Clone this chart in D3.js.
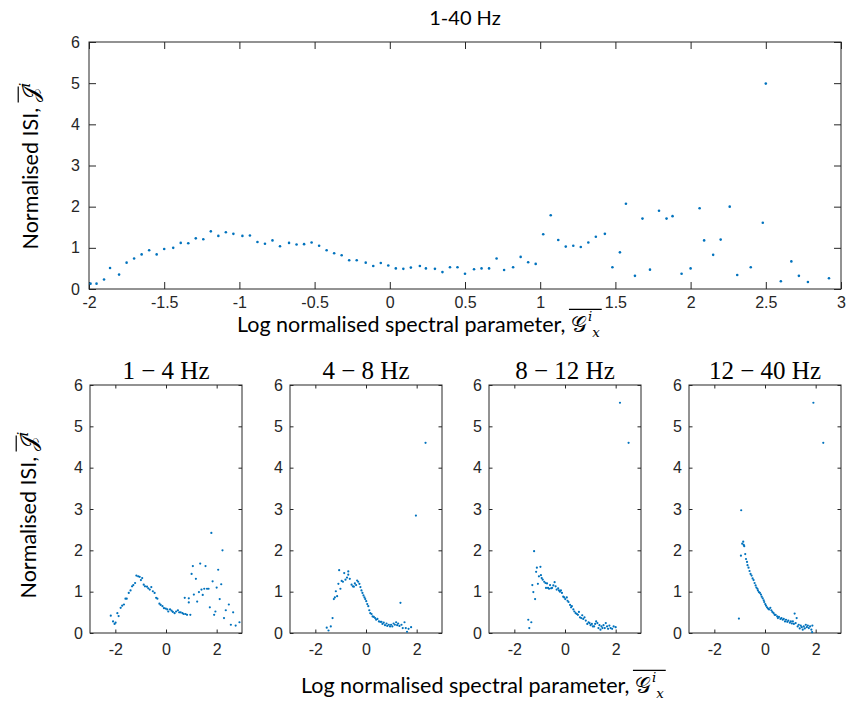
<!DOCTYPE html>
<html><head><meta charset="utf-8">
<script src="https://cdn.jsdelivr.net/npm/d3@7/dist/d3.min.js"></script>
<style>body{margin:0;background:#fff}svg{display:block}</style>
</head><body>
<script>
// ---------- data ----------
const allBandX = [-1.99,-1.95,-1.90,-1.86,-1.80,-1.75,-1.70,-1.65,-1.60,-1.55,-1.50,-1.44,-1.39,-1.34,-1.29,-1.24,-1.19,-1.14,-1.09,-1.04,-0.98,-0.93,-0.88,-0.83,-0.78,-0.73,-0.67,-0.62,-0.57,-0.52,-0.47,-0.42,-0.37,-0.32,-0.27,-0.22,-0.16,-0.11,-0.06,-0.01,0.04,0.09,0.14,0.20,0.24,0.30,0.35,0.40,0.45,0.50,0.56,0.61,0.66,0.71,0.76,0.82,0.87,0.92,0.97,1.02,1.07,1.12,1.17,1.22,1.27,1.32,1.37,1.43,1.48,1.53,1.57,1.63,1.68,1.73,1.79,1.84,1.88,1.94,2.00,2.06,2.09,2.15,2.20,2.26,2.31,2.40,2.48,2.50,2.60,2.67,2.72,2.78,2.92];
const allBandY = [0.13,0.13,0.23,0.51,0.35,0.64,0.74,0.84,0.94,0.84,0.97,1.00,1.12,1.11,1.23,1.21,1.40,1.29,1.38,1.34,1.29,1.30,1.14,1.10,1.18,1.04,1.12,1.08,1.09,1.13,1.05,0.94,0.87,0.82,0.70,0.70,0.64,0.56,0.63,0.57,0.50,0.49,0.52,0.56,0.50,0.49,0.41,0.53,0.53,0.37,0.48,0.50,0.50,0.74,0.46,0.53,0.78,0.65,0.61,1.33,1.79,1.19,1.03,1.05,1.02,1.13,1.27,1.34,0.53,0.89,2.07,0.32,1.71,0.47,1.90,1.71,1.77,0.37,0.50,1.96,1.18,0.83,1.20,2.00,0.34,0.53,1.61,4.99,0.19,0.67,0.32,0.17,0.26];

const deltaX = [-2.18,-2.09,-2.03,-1.99,-1.92,-1.87,-1.79,-1.73,-1.66,-1.60,-1.55,-1.47,-1.40,-1.34,-1.29,-1.22,-1.17,-1.10,-1.04,-0.99,-0.94,-0.88,-0.83,-0.75,-0.70,-0.64,-0.58,-0.52,-0.45,-0.39,-0.34,-0.26,-0.21,-0.14,-0.08,-0.01,0.05,0.09,0.16,0.22,0.27,0.34,0.40,0.47,0.52,0.58,0.65,0.70,0.77,0.74,0.83,0.90,0.90,0.96,1.01,1.06,1.10,1.18,1.23,1.30,1.35,1.40,1.45,1.51,1.56,1.62,1.68,1.73,1.79,1.84,1.90,1.95,2.00,2.06,2.12,2.18,2.23,2.29,2.36,2.48,2.56,2.65,2.75,2.90];
const deltaY = [0.42,0.28,0.22,0.25,0.48,0.41,0.61,0.66,0.69,0.83,0.83,0.97,1.03,1.13,1.16,1.21,1.39,1.37,1.36,1.28,1.33,1.17,1.13,1.12,1.08,1.05,1.11,1.01,0.97,0.85,0.83,0.71,0.68,0.65,0.60,0.59,0.57,0.52,0.57,0.54,0.51,0.48,0.52,0.55,0.50,0.50,0.48,0.46,0.46,0.85,0.44,0.84,0.74,0.44,1.43,1.62,0.93,1.31,0.76,0.99,1.68,1.05,0.92,1.07,1.62,1.07,1.07,0.62,2.42,1.25,0.44,0.52,1.10,1.53,0.82,1.18,2.00,0.36,0.55,0.69,0.20,0.50,0.18,0.26];

const thetaX = [-1.55,-1.48,-1.39,-1.32,-1.27,-1.23,-1.19,-1.14,-1.09,-1.06,-1.01,-0.96,-0.91,-0.86,-0.81,-0.75,-0.70,-0.70,-0.64,-0.57,-0.52,-0.48,-0.44,-0.39,-0.35,-0.31,-0.26,-0.22,-0.18,-0.14,-0.10,-0.06,-0.03,0.01,0.05,0.09,0.13,0.17,0.22,0.26,0.31,0.36,0.40,0.45,0.51,0.56,0.61,0.65,0.70,0.75,0.81,0.84,0.90,0.95,0.99,1.04,1.09,1.14,1.19,1.23,1.27,1.32,1.36,1.40,1.45,1.52,1.57,1.62,1.68,1.78,1.97,2.35];
const thetaY = [0.13,0.06,0.16,0.36,0.82,0.86,1.01,0.89,1.19,1.52,1.07,1.26,1.24,1.45,1.29,1.34,1.49,1.41,1.31,1.17,1.13,1.12,1.20,1.16,1.27,1.24,1.19,1.11,1.03,0.97,0.91,0.86,0.82,0.77,0.70,0.65,0.55,0.48,0.46,0.40,0.39,0.36,0.32,0.34,0.28,0.27,0.27,0.22,0.25,0.19,0.23,0.17,0.20,0.16,0.20,0.16,0.23,0.20,0.26,0.19,0.23,0.17,0.73,0.20,0.12,0.26,0.12,0.03,0.10,0.14,2.84,4.60];

const alphaX = [-1.45,-1.41,-1.33,-1.29,-1.25,-1.22,-1.18,-1.14,-1.11,-1.07,-1.03,-0.97,-0.95,-0.92,-0.88,-0.82,-0.77,-0.75,-0.71,-0.67,-0.63,-0.59,-0.55,-0.51,-0.46,-0.41,-0.37,-0.33,-0.27,-0.24,-0.20,-0.16,-0.12,-0.07,-0.03,0.01,0.07,0.10,0.14,0.20,0.24,0.27,0.33,0.37,0.42,0.47,0.51,0.55,0.59,0.64,0.68,0.72,0.77,0.82,0.88,0.93,0.97,1.01,1.06,1.10,1.15,1.19,1.23,1.28,1.32,1.36,1.40,1.44,1.48,1.52,1.57,1.61,1.66,1.70,1.75,1.80,1.86,1.92,2.00,2.17,2.51];
const alphaY = [0.32,0.12,0.26,1.16,0.99,1.98,0.82,1.48,1.58,1.19,1.37,1.60,1.40,1.33,1.29,1.24,1.21,1.09,1.20,1.09,1.07,1.16,1.08,1.09,1.15,1.23,1.13,1.05,1.08,1.03,1.00,1.03,0.97,0.88,0.86,0.82,0.86,0.78,0.75,0.68,0.62,0.65,0.57,0.52,0.48,0.46,0.44,0.51,0.38,0.36,0.43,0.34,0.38,0.30,0.22,0.26,0.24,0.19,0.22,0.16,0.16,0.22,0.28,0.24,0.12,0.19,0.08,0.16,0.12,0.19,0.12,0.24,0.16,0.10,0.18,0.12,0.10,0.16,0.14,5.57,4.60];

const betaX = [-1.03,-0.94,-0.95,-0.90,-0.86,-0.84,-0.82,-0.78,-0.75,-0.71,-0.69,-0.65,-0.61,-0.57,-0.53,-0.49,-0.45,-0.41,-0.37,-0.34,-0.30,-0.28,-0.24,-0.20,-0.16,-0.13,-0.09,-0.05,-0.03,0.01,0.04,0.08,0.12,0.16,0.21,0.25,0.29,0.34,0.38,0.42,0.48,0.51,0.55,0.61,0.65,0.70,0.74,0.79,0.83,0.88,0.92,0.98,1.02,1.06,1.10,1.14,1.17,1.21,1.25,1.29,1.33,1.37,1.41,1.45,1.49,1.53,1.57,1.61,1.65,1.69,1.73,1.78,1.83,1.87,1.86,1.91,2.30];
const betaY = [0.35,2.97,1.87,2.16,2.21,2.13,2.10,1.91,1.79,1.72,1.64,1.58,1.50,1.43,1.39,1.32,1.28,1.21,1.15,1.10,1.07,1.03,0.99,0.97,0.93,0.88,0.84,0.79,0.75,0.70,0.66,0.62,0.59,0.57,0.61,0.55,0.51,0.48,0.44,0.44,0.40,0.36,0.39,0.34,0.36,0.32,0.34,0.28,0.32,0.27,0.30,0.25,0.28,0.23,0.28,0.22,0.47,0.24,0.36,0.16,0.20,0.11,0.18,0.14,0.08,0.16,0.11,0.20,0.14,0.18,0.12,0.16,0.08,0.18,0.02,5.57,4.60];

const topTitle = "1-40 Hz";
const bandTitles = ["1 \u2212 4 Hz", "4 \u2212 8 Hz", "8 \u2212 12 Hz", "12 \u2212 40 Hz"];
const topXTicks = [-2,-1.5,-1,-0.5,0,0.5,1,1.5,2,2.5,3];
const bandXTicks = [-2,0,2];
const yTicks = [0,1,2,3,4,5,6];

// ---------- drawing ----------
const W = 859, H = 703;
const svg = d3.select("body").append("svg").attr("width", W).attr("height", H);
svg.append("rect").attr("width", W).attr("height", H).attr("fill", "#fff");

const AX = "#262626", DOT = "#0072BD";
const tickFont = "'Liberation Sans', Arial, sans-serif";
const labFont = "Lato, 'Open Sans', sans-serif";
const mathFont = "'DejaVu Sans', 'DejaVu Serif', serif";

function panel(xs, ys, opt) {
  const x = d3.scaleLinear().domain(opt.xDomain).range([opt.left, opt.right]);
  const y = d3.scaleLinear().domain([0, 6]).range([opt.bottom, opt.top]);
  const g = svg.append("g");
  const L = opt.tick;
  const fmt = d => String(d);
  const bx = g.append("g").attr("transform", `translate(0,${opt.bottom})`)
    .call(d3.axisBottom(x).tickValues(opt.xTicks).tickFormat(fmt).tickSizeInner(-L).tickSizeOuter(0).tickPadding(opt.xPad));
  const tx = g.append("g").attr("transform", `translate(0,${opt.top})`)
    .call(d3.axisTop(x).tickValues(opt.xTicks).tickFormat("").tickSizeInner(-L).tickSizeOuter(0));
  const ly = g.append("g").attr("transform", `translate(${opt.left},0)`)
    .call(d3.axisLeft(y).tickValues(yTicks).tickFormat(fmt).tickSizeInner(-L).tickSizeOuter(0).tickPadding(opt.yPad));
  const ry = g.append("g").attr("transform", `translate(${opt.right},0)`)
    .call(d3.axisRight(y).tickValues(yTicks).tickFormat("").tickSizeInner(-L).tickSizeOuter(0));
  [bx, tx, ly, ry].forEach(a => {
    a.select(".domain").remove();
    a.selectAll("line").attr("stroke", AX).attr("stroke-width", 1);
    a.selectAll("text").attr("fill", AX).style("font-family", tickFont).style("font-size", opt.fs + "px");
  });
  g.append("rect").attr("x", opt.left).attr("y", opt.top)
    .attr("width", opt.right - opt.left).attr("height", opt.bottom - opt.top)
    .attr("fill", "none").attr("stroke", AX).attr("stroke-width", 1);
  g.append("g").selectAll("circle").data(d3.range(xs.length)).join("circle")
    .attr("cx", i => x(xs[i])).attr("cy", i => y(ys[i])).attr("r", opt.r).attr("fill", DOT);
  if (opt.title) {
    g.append("text").attr("x", (opt.left + opt.right) / 2).attr("y", opt.top - opt.titleDy)
      .attr("text-anchor", "middle").style("font-family", opt.titleFont)
      .style("font-size", opt.titleFs + "px").attr("fill", "#000").text(opt.title);
  }
}

// top panel
panel(allBandX, allBandY, {
  xDomain: [-2, 3], left: 89, right: 841, top: 42, bottom: 289, tick: 7,
  xTicks: topXTicks, xPad: 8, yPad: 9, fs: 16, r: 1.3,
  title: topTitle, titleDy: 17, titleFont: labFont, titleFs: 20
});

const bands = [[deltaX, deltaY], [thetaX, thetaY], [alphaX, alphaY], [betaX, betaY]];
const lefts = [90, 290, 489, 689];
bands.forEach((b, k) => {
  panel(b[0], b[1], {
    xDomain: [-3, 3], left: lefts[k], right: lefts[k] + 152, top: 385, bottom: 633, tick: 3.5,
    xTicks: bandXTicks, xPad: 11, yPad: 7, fs: 16, r: 1.1,
    title: bandTitles[k], titleDy: 6, titleFont: "'Liberation Serif', 'DejaVu Serif', serif", titleFs: 25
  });
});

// y labels (rotated) with overlined script J and superscript i
function yLabel(cx, cy, fs) {
  const g = svg.append("g").attr("transform", `translate(${cx},${cy}) rotate(-90)`);
  const t = g.append("text").attr("y", 0).style("font-family", labFont).style("font-size", fs + "px").attr("fill", "#000");
  t.append("tspan").text("Normalised ISI, ");
  t.append("tspan").style("font-family", mathFont).text("\u{1D4A5}");
  t.append("tspan").style("font-family", mathFont).style("font-size", (fs * 0.7) + "px").attr("dy", -fs * 0.38).text("\u{1D456}");
  const n = t.node();
  const w = n.getComputedTextLength();
  t.attr("x", -w / 2);
  const s = n.getStartPositionOfChar(16).x;
  const e = n.getEndPositionOfChar(16).x;
  g.append("line").attr("x1", s).attr("x2", e + 1).attr("y1", -fs * 0.92).attr("y2", -fs * 0.92)
    .attr("stroke", "#000").attr("stroke-width", 1.2);
}
yLabel(38, 166, 21.5);
yLabel(36, 515, 21.5);

// x labels: main text + script G, with super i and sub x as separate small texts
function xLabel(cx, cy, fs) {
  const g = svg.append("g");
  const t = g.append("text").attr("y", cy).style("font-family", labFont).style("font-size", fs + "px").attr("fill", "#000");
  t.append("tspan").text("Log normalised spectral parameter,  ");
  t.append("tspan").style("font-family", mathFont).text("\u{1D4A2}");
  const n = t.node();
  const w = n.getComputedTextLength();
  const small = fs * 0.62;
  const x0 = cx - (w + small * 0.9) / 2;
  t.attr("x", x0);
  const nc = n.getNumberOfChars();
  const gExt = n.getExtentOfChar(nc - 1);
  const endX = x0 + w;
  const sup = g.append("text").attr("x", endX + 1).attr("y", cy - fs * 0.5)
    .style("font-family", mathFont).style("font-size", small + "px").attr("fill", "#000").text("\u{1D456}");
  const supW = sup.node().getComputedTextLength();
  const sub = g.append("text").attr("x", endX + 1 + supW).attr("y", cy + fs * 0.22)
    .style("font-family", mathFont).style("font-size", small + "px").attr("fill", "#000").text("\u{1D465}");
  const subW = sub.node().getComputedTextLength();
  g.append("line").attr("x1", gExt.x - 2).attr("x2", endX + 1 + supW + subW + 2)
    .attr("y1", cy - fs * 1.05).attr("y2", cy - fs * 1.05).attr("stroke", "#000").attr("stroke-width", 1.2);
}
xLabel(418, 332, 21.5);
xLabel(482, 693, 21.5);
</script>
</body></html>
